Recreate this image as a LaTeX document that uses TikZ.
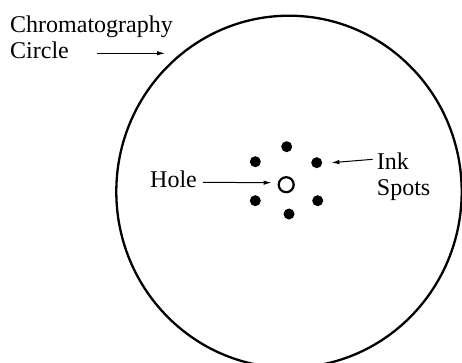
\documentclass[tikz,border=0pt]{standalone}
\usepackage{fontspec}
\setmainfont{Liberation Serif}
\usetikzlibrary{arrows.meta}

\tikzset{
  label text/.style={inner sep=0pt, align=left},
  spot/.style={circle, fill, inner sep=0pt, minimum size=11pt},
  pointer/.style={->, line width=1pt}
}

\begin{document}
\begin{tikzpicture}[x=1pt, y=-1pt, line join=round, >={Latex[length=8pt,width=4.5pt]},
    font=\fontsize{24}{26}\selectfont]
    \useasboundingbox (0,0) rectangle (462,362);
    % paper
    \draw[line width=2.3pt] (289,191.7) ellipse [x radius=172.7pt, y radius=176pt];
    % hole and spots
    \node[circle, draw, line width=2.2pt, inner sep=0pt, minimum size=15pt] (hole) at (286.2,184.7) {};
    \foreach \n/\p in {1/{(286.7,146.7)}, 2/{(255.3,161.7)}, 3/{(316.7,162.7)},
                       4/{(255.3,200.7)}, 5/{(317.7,200.7)}, 6/{(289,214)}}
        \node[spot] (s\n) at \p {};
    % labels
    \node[label text, anchor=north west] (paper) at (10,15.7) {Chromatography\\Circle};
    \node[label text, anchor=base west] (holelbl) at (150,187.3) {Hole};
    \node[label text, anchor=north west] (ink) at (376.7,152.3) {Ink\\Spots};
    \coordinate (paper tail) at (96.7,53.3);
    \coordinate (paper tip) at (165,53.3);
    \draw[pointer] (paper tail) -- (paper tip);
    \draw[pointer] ([xshift=6pt,yshift=5pt]holelbl.base east) -- ([xshift=-6pt,yshift=2pt]hole.west);
    \draw[pointer] ([xshift=-4pt,yshift=-7pt]ink.north west) -- ([xshift=9pt]s3.east);
\end{tikzpicture}
\end{document}
